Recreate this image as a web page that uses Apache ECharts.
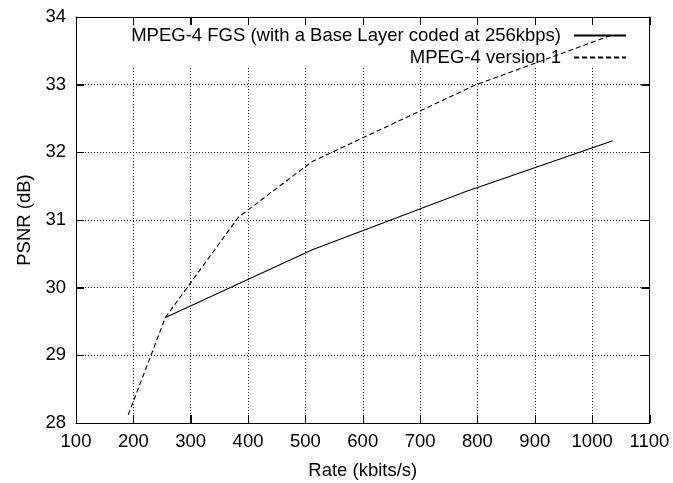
<!DOCTYPE html>
<html>
<head>
<meta charset="utf-8">
<script src="https://cdn.jsdelivr.net/npm/echarts@6/dist/echarts.min.js"></script>
<style>
html,body{margin:0;padding:0;background:#fff;}
#chart{width:673px;height:483px;}
</style>
</head>
<body>
<div id="chart"></div>
<script>
// Data
const fgsRate = [256, 512, 780, 1036];
const fgsPsnr = [29.56, 30.56, 31.42, 32.17];
const v1Rate = [191, 256, 383, 511, 795, 1036];
const v1Psnr = [28.12, 29.56, 31.04, 31.86, 32.99, 33.74];
const seriesNames = ['MPEG-4 FGS (with a Base Layer coded at 256kbps)', 'MPEG-4 version 1'];
const xTicks = [100, 200, 300, 400, 500, 600, 700, 800, 900, 1000, 1100];
const yTicks = [28, 29, 30, 31, 32, 33, 34];

const FONT = 'Liberation Sans, Arial, Helvetica, sans-serif';
const FS = 18.5;
const TICK = 8;

const chart = echarts.init(document.getElementById('chart'), null, {renderer: 'canvas'});

function pairs(xs, ys) { return xs.map((x, i) => [x, ys[i]]); }
const plain = v => String(v);

const tickStyle = () => ({show: true, inside: true, length: TICK, lineStyle: {color: '#000', width: 1}});
const frameLine = () => ({show: true, onZero: false, lineStyle: {color: '#000', width: 1}});

function tickLine(x1, y1, x2, y2) {
  return {type: 'line', shape: {x1, y1, x2, y2}, style: {stroke: '#000', lineWidth: 1}};
}

const option = {
  backgroundColor: '#fff',
  animation: false,
  textStyle: {fontFamily: FONT},
  grid: {left: 76, right: 23.5, top: 17, bottom: 60, containLabel: false, outerBoundsMode: 'none'},
  legend: {
    orient: 'vertical',
    align: 'right',
    right: 46,
    top: 26,
    itemWidth: 52,
    itemHeight: 10,
    itemGap: 3,
    padding: 0,
    selectedMode: false,
    itemStyle: {opacity: 0},
    textStyle: {fontFamily: FONT, fontSize: FS, color: '#000', padding: [0, 8, 0, 0]},
    data: seriesNames.map(n => ({name: n}))
  },
  xAxis: [{
    type: 'value',
    min: xTicks[0], max: xTicks[xTicks.length - 1], interval: 100,
    position: 'bottom',
    name: 'Rate (kbits/s)',
    nameLocation: 'middle',
    nameGap: 38,
    nameTextStyle: {fontFamily: FONT, fontSize: FS, color: '#000'},
    axisLine: frameLine(),
    axisTick: tickStyle(),
    axisLabel: {fontFamily: FONT, fontSize: FS, color: '#000', margin: 9, formatter: plain},
    splitLine: {show: true, lineStyle: {color: '#222', type: [1, 2], width: 1}}
  }, {
    type: 'value',
    min: xTicks[0], max: xTicks[xTicks.length - 1], interval: 100,
    position: 'top',
    axisLine: frameLine(),
    axisTick: tickStyle(),
    axisLabel: {show: false},
    splitLine: {show: false}
  }],
  yAxis: [{
    type: 'value',
    min: yTicks[0], max: yTicks[yTicks.length - 1], interval: 1,
    position: 'left',
    name: 'PSNR (dB)',
    nameLocation: 'middle',
    nameGap: 39,
    nameRotate: 90,
    nameTextStyle: {fontFamily: FONT, fontSize: FS, color: '#000'},
    axisLine: frameLine(),
    axisTick: tickStyle(),
    axisLabel: {fontFamily: FONT, fontSize: FS, color: '#000', margin: 10, formatter: plain},
    splitLine: {show: true, lineStyle: {color: '#222', type: [1, 2], width: 1}}
  }, {
    type: 'value',
    min: yTicks[0], max: yTicks[yTicks.length - 1], interval: 1,
    position: 'right',
    axisLine: frameLine(),
    axisTick: tickStyle(),
    axisLabel: {show: false},
    splitLine: {show: false}
  }],
  graphic: [{
    type: 'rect',
    z: 1,
    silent: true,
    shape: {x: 86, y: 26, width: 552, height: 40},
    style: {fill: '#fff'}
  }],
  series: [{
    name: seriesNames[0],
    type: 'line',
    data: pairs(fgsRate, fgsPsnr),
    symbol: 'none',
    z: 3,
    lineStyle: {color: '#000', width: 1.1, type: 'solid'},
    itemStyle: {color: '#000'}
  }, {
    name: seriesNames[1],
    type: 'line',
    data: pairs(v1Rate, v1Psnr),
    symbol: 'none',
    z: 3,
    lineStyle: {color: '#000', width: 1.1, type: [5, 3]},
    itemStyle: {color: '#000'}
  }, {
    // mirrored tick marks on bottom and top frame edges (gnuplot style)
    name: 'xticks',
    type: 'custom',
    silent: true,
    z: 2,
    clip: false,
    data: xTicks.map(v => [v, yTicks[0]]),
    renderItem: function (params, api) {
      const cs = params.coordSys;
      const px = Math.round(api.coord([api.value(0), api.value(1)])[0]) + 0.5;
      const top = cs.y, bottom = cs.y + cs.height;
      return {type: 'group', children: [
        tickLine(px, bottom, px, bottom - TICK),
        tickLine(px, top, px, top + TICK)
      ]};
    }
  }, {
    // mirrored tick marks on left and right frame edges
    name: 'yticks',
    type: 'custom',
    silent: true,
    z: 2,
    clip: false,
    data: yTicks.map(v => [xTicks[0], v]),
    renderItem: function (params, api) {
      const cs = params.coordSys;
      const py = Math.round(api.coord([api.value(0), api.value(1)])[1]) + 0.5;
      const left = cs.x, right = cs.x + cs.width;
      return {type: 'group', children: [
        tickLine(left, py, left + TICK, py),
        tickLine(right, py, right - TICK, py)
      ]};
    }
  }]
};
chart.setOption(option);
</script>
</body>
</html>
